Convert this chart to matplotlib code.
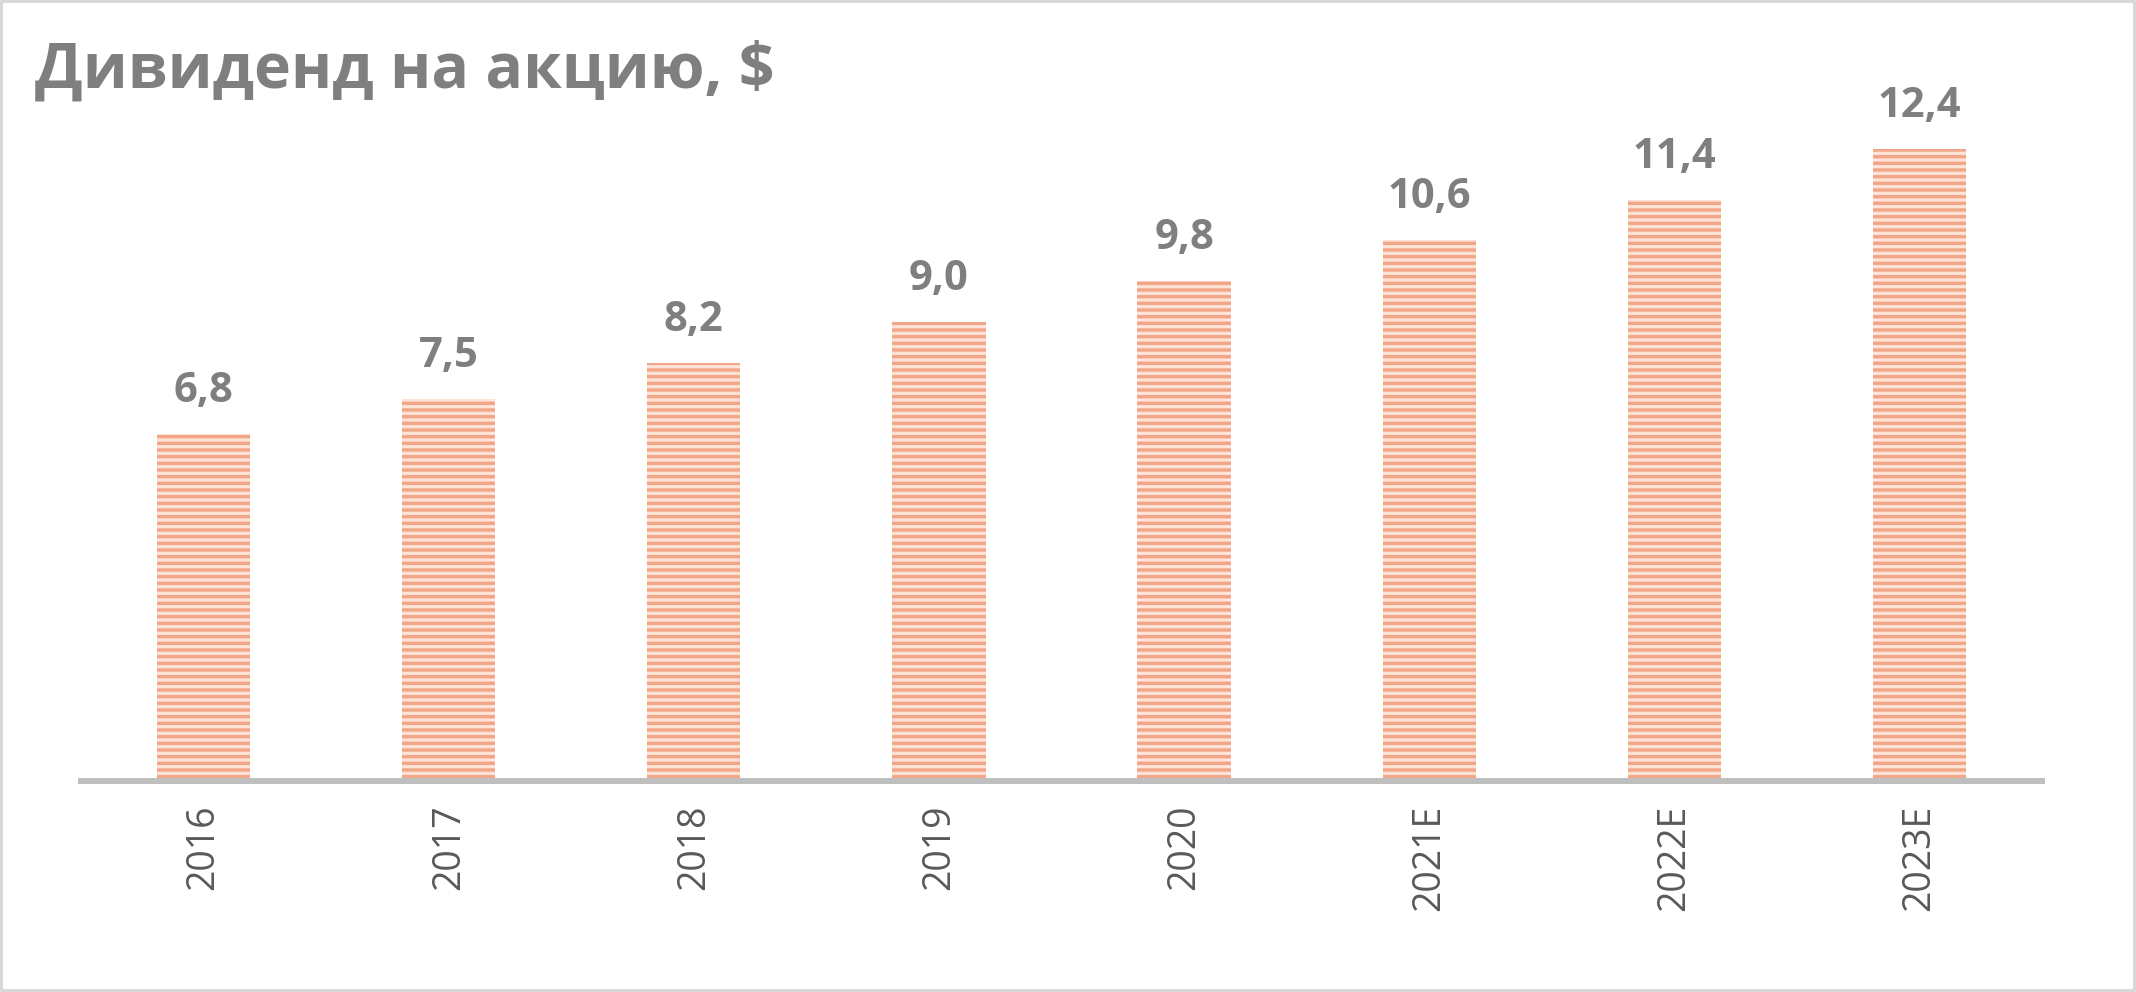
import matplotlib
matplotlib.use("Agg")
import matplotlib.pyplot as plt
from matplotlib.patches import Rectangle

categories = ["2016", "2017", "2018", "2019", "2020", "2021E", "2022E", "2023E"]
values = [6.8, 7.5, 8.2, 9.0, 9.8, 10.6, 11.4, 12.4]
value_labels = ["6,8", "7,5", "8,2", "9,0", "9,8", "10,6", "11,4", "12,4"]
title = "Дивиденд на акцию, $"

W, H = 2136, 992
DPI = 80
K = 100 / DPI  # point-size scale so sizes match a 100-dpi design
plt.rcParams['hatch.linewidth'] = 3.1
plt.rcParams['font.family'] = ['Open Sans', 'DejaVu Sans']

fig = plt.figure(figsize=(W / DPI, H / DPI), dpi=DPI)
ax = fig.add_axes([81 / W, (H - 781) / H, (2042 - 81) / W, (781 - 100) / H])

x = list(range(len(categories)))
bars = ax.bar(x, values, width=0.38, color="#fce3d7", edgecolor="#f2a688",
              hatch="--", linewidth=0, zorder=2)

ax.set_xlim(-0.5, len(categories) - 0.5)
ax.set_ylim(0, 681 / 51)

for xi, v, lab in zip(x, values, value_labels):
    ax.annotate(lab, (xi, v), xytext=(0, 23 * K), textcoords="offset points",
                ha="center", va="baseline", fontsize=30 * K, fontweight="bold",
                color="#7f7f7f")

ax.set_xticks(x)
ax.set_xticklabels(categories, rotation=90, fontsize=27 * K, color="#595959")
ax.tick_params(axis="x", length=0, pad=17 * K)
ax.set_yticks([])
for s in ["top", "right", "left"]:
    ax.spines[s].set_visible(False)
ax.spines["bottom"].set_color("#bfbfbf")
ax.spines["bottom"].set_linewidth(4.3 * K)
ax.spines["bottom"].set_zorder(3)

fig.text(35 / W, 1 - 88 / H, title, fontsize=45 * K, fontweight="bold",
         color="#7f7f7f", ha="left", va="baseline")

fig.patches.append(Rectangle((0, 0), 1, 1, transform=fig.transFigure,
                             fill=False, edgecolor="#d9d9d9", linewidth=4.3 * K,
                             zorder=10))

fig.savefig("out.png", dpi=DPI, facecolor="white")
